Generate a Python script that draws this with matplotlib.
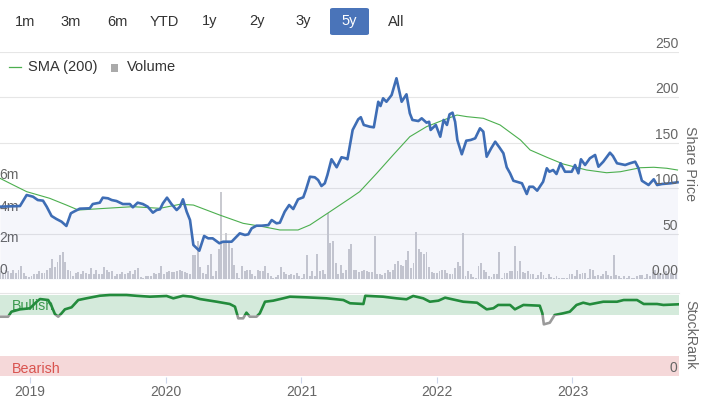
import numpy as np
import pandas as pd
import matplotlib
matplotlib.use("Agg")
import matplotlib.pyplot as plt
import matplotlib.dates as mdates
import matplotlib.transforms as mtransforms
from matplotlib.patches import FancyBboxPatch, Rectangle
from matplotlib.lines import Line2D

plt.rcParams["font.family"] = ["Liberation Sans", "DejaVu Sans"]

# ---- data ----
price_dates = [
    "2018-10-12", "2018-12-05", "2018-12-23", "2019-01-09", "2019-01-22", "2019-02-05", "2019-02-15",
    "2019-02-28", "2019-03-13", "2019-03-27", "2019-04-09", "2019-04-21", "2019-04-29", "2019-05-15",
    "2019-06-11", "2019-06-19", "2019-07-08", "2019-07-16", "2019-07-30", "2019-08-09", "2019-08-22",
    "2019-09-08", "2019-09-27", "2019-10-05", "2019-10-18", "2019-11-01", "2019-11-14", "2019-11-28",
    "2019-12-08", "2019-12-17", "2019-12-25", "2020-01-05", "2020-01-17", "2020-01-31", "2020-02-09",
    "2020-02-17", "2020-02-27", "2020-03-07", "2020-03-16", "2020-04-01", "2020-04-14", "2020-04-25",
    "2020-05-07", "2020-05-25", "2020-06-04", "2020-06-27", "2020-07-06", "2020-07-19", "2020-08-02",
    "2020-08-11", "2020-08-20", "2020-09-02", "2020-09-16", "2020-10-04", "2020-10-13", "2020-10-26",
    "2020-11-04", "2020-11-17", "2020-11-29", "2020-12-10", "2020-12-23",
    "2021-01-06", "2021-01-13", "2021-01-24", "2021-02-06", "2021-02-15", "2021-02-24", "2021-03-05",
    "2021-03-12", "2021-03-23", "2021-04-06", "2021-04-19", "2021-04-30", "2021-05-05", "2021-05-12",
    "2021-05-19", "2021-06-03", "2021-06-10", "2021-06-18", "2021-07-04", "2021-07-15", "2021-07-27",
    "2021-08-02", "2021-08-09", "2021-08-18", "2021-09-01", "2021-09-14", "2021-09-28", "2021-10-11",
    "2021-10-20", "2021-10-27", "2021-11-12", "2021-11-21", "2021-12-04", "2021-12-11", "2021-12-15",
    "2021-12-29",
    "2022-01-10", "2022-01-19", "2022-01-28", "2022-02-04", "2022-02-12", "2022-02-19", "2022-02-25",
    "2022-03-09", "2022-03-21", "2022-04-02", "2022-04-14", "2022-04-27", "2022-05-06", "2022-05-15",
    "2022-05-27", "2022-06-07", "2022-06-18", "2022-06-29", "2022-07-08", "2022-07-17", "2022-07-26",
    "2022-08-18", "2022-08-31", "2022-09-07", "2022-09-17", "2022-09-28", "2022-10-14", "2022-10-24",
    "2022-10-31", "2022-11-10", "2022-11-19", "2022-11-30", "2022-12-12", "2022-12-30",
    "2023-01-08", "2023-01-17", "2023-01-24", "2023-02-04", "2023-02-17", "2023-03-03", "2023-03-12",
    "2023-03-25", "2023-04-12", "2023-04-20", "2023-05-01", "2023-05-23", "2023-06-05", "2023-06-19",
    "2023-06-28", "2023-07-07", "2023-07-25", "2023-08-08", "2023-08-17", "2023-08-30", "2023-09-22",
    "2023-10-11",
]
price_values = [
    79.7, 80.4, 92.5, 90.7, 87, 86.3, 79.7, 69.5, 66.2, 63.2, 58.5, 72.4, 74.2, 77.5, 77.9, 82.6, 84.1,
    89.6, 88.9, 87, 85.9, 82.6, 82.6, 79, 84.1, 82.6, 79.7, 73.1, 76, 76.8, 83.4, 89.6, 82.6, 76, 79.7,
    87.8, 74.2, 65, 37.6, 31.3, 47.5, 44.9, 44.9, 39.5, 41.2, 41.2, 44.9, 50.4, 48.6, 49.3, 55.9, 58.8,
    58.8, 59.5, 65, 61.4, 62.1, 74.2, 81.5, 77.1, 87.8,
    90, 98, 112.6, 112, 109, 102.4, 105.4, 114.5, 131.8, 123, 134, 132.9, 131.8, 148, 164, 175.7, 178,
    169.5, 167.6, 166.9, 195, 190.3, 198.8, 195, 202.4, 220.8, 195, 203.2, 182.3, 175, 173.8, 176.8,
    172, 173, 164, 169.5,
    156.6, 175, 169.5, 181.2, 183, 173, 153, 137.3, 152.2, 153, 154.8, 165.8, 162.1, 134.6, 143.8,
    151.1, 145, 138.4, 123, 116.4, 108.2, 105.4, 93.6, 101.6, 101.6, 97.3, 107.1, 121.9, 118.1, 120,
    115.6, 127.4, 118.1, 118.1,
    125.5, 116.4, 131.8, 125.5, 132.9, 136.5, 123.6, 129.1, 139, 135.4, 127.4, 125.5, 127.4, 129.1,
    121.9, 108.2, 103.5, 109.8, 103.5, 104.6, 105.4, 106.5,
]

sma_dates = [
    "2018-10-12", "2018-11-17", "2018-12-23", "2019-02-23", "2019-04-09", "2019-05-11", "2019-07-08",
    "2019-10-05", "2019-12-17", "2020-02-09", "2020-03-16", "2020-05-26", "2020-07-28", "2020-09-20",
    "2020-11-04", "2020-12-23", "2021-01-24", "2021-03-19", "2021-05-12", "2021-06-07", "2021-07-23",
    "2021-09-05", "2021-10-20", "2021-12-04", "2022-01-19", "2022-02-24", "2022-03-23", "2022-05-06",
    "2022-06-20", "2022-08-14", "2022-09-09", "2022-10-24", "2022-12-07", "2023-02-08", "2023-04-03",
    "2023-05-10", "2023-07-03", "2023-08-08", "2023-09-12", "2023-10-11",
]
sma_values = [
    110.9, 103.5, 96.2, 88.9, 81.5, 76, 77.5, 79.7, 77.9, 82.3, 81.5, 70.5, 61.4, 57.7, 54.1, 54.1,
    59.6, 74.2, 88.9, 96.2, 116.4, 136.5, 156.6, 167.6, 175, 180.4, 178.6, 176.8, 169.5, 153, 142, 134,
    126.6, 120, 117, 118.1, 122.5, 123, 121.9, 120,
]

# weekly volume, millions of shares
volume_start = "2018-10-13"
volume = [
    0.5, 0.3, 0.6, 0.5, 0.4, 0.6, 0.4, 0.6, 0.85, 0.4,
    0.2, 0.15, 0.2, 0.3, 0.3, 0.5, 0.4, 0.4, 0.6, 0.7,
    1.3, 0.8, 1.1, 1.5, 1.7, 1.1, 0.6, 0.5, 0.2, 0.4,
    0.45, 0.35, 0.5, 0.4, 0.3, 0.7, 0.3, 0.6, 0.35, 0.35,
    0.75, 0.55, 0.45, 0.5, 0.2, 0.3, 0.35, 0.45, 0.3, 0.4,
    0.5, 0.35, 0.6, 0.7, 0.15, 0.1, 0.2, 0.2, 0.2, 0.4,
    0.3, 0.4, 0.85, 0.3, 0.45, 0.5, 0.45, 0.45, 0.5, 0.55,
    0.5, 0.45, 0.4, 0.3, 1.5, 1.5, 2.4, 0.8, 0.4, 0.3,
    0.9, 1.6, 0.2, 0.5, 1.9, 5.5, 2.3, 2.9, 2.4, 2.0,
    0.9, 0.4, 0.1, 0.85, 0.5, 0.6, 0.6, 0.3, 0.2, 0.6,
    0.5, 0.5, 0.85, 0.4, 0.2, 0.1, 0.15, 0.25, 0.8, 0.45,
    0.35, 0.25, 0.3, 0.25, 0.4, 0.2, 0.1, 0.3, 1.5, 0.2,
    0.5, 0.2, 1.6, 0.5, 0.55, 0.3, 4.2, 2.3, 2.4, 1.0,
    0.3, 0.9, 0.4, 0.55, 1.9, 2.2, 0.55, 0.6, 0.45, 0.5,
    0.55, 0.5, 0.45, 0.45, 2.7, 0.3, 0.3, 0.25, 0.4, 0.55,
    0.45, 0.6, 0.95, 1.15, 0.9, 0.85, 1.2, 1.8, 0.7, 1.05,
    3.0, 1.9, 1.7, 1.6, 1.7, 0.8, 0.45, 0.4, 0.4, 0.5,
    0.6, 0.6, 0.4, 0.3, 0.3, 0.7, 1.1, 0.85, 2.9, 0.2,
    0.5, 0.3, 0.15, 0.1, 0.85, 1.05, 0.6, 0.45, 0.2, 0.15,
    0.3, 0.3, 1.7, 0.1, 0.4, 0.42, 0.53, 0.5, 2.1, 0.5,
    1.15, 0.45, 0.42, 0.53, 0.3, 0.3, 0.1, 0.25, 0.45, 0.25,
    0.1, 0.3, 0.15, 0.1, 0.2, 0.1, 0.1, 0.05, 0.05, 0.3,
    0.3, 0.2, 0.6, 0.3, 0.4, 0.4, 0.1, 0.65, 0.6, 0.2,
    0.25, 0.2, 0.3, 0.53, 0.25, 0.2, 1.5, 0.25, 0.2, 0.1,
    0.2, 0.1, 0.2, 0.05, 0.05, 0.2, 0.25, 0.25, 0.1, 0.3,
    0.2, 0.45, 0.55, 0.3, 0.4, 0.3, 0.5, 0.3, 0.4, 0.3, 0.3,
]

rank_dates = [
    "2018-10-12", "2018-11-03", "2018-11-12", "2018-12-05", "2019-01-01", "2019-01-19", "2019-01-28",
    "2019-02-19", "2019-02-28", "2019-03-09", "2019-03-18", "2019-03-27", "2019-04-05", "2019-04-23",
    "2019-05-11", "2019-06-02", "2019-07-08", "2019-08-04", "2019-09-18", "2019-10-15", "2019-11-20",
    "2020-01-04", "2020-01-22", "2020-02-17", "2020-03-11", "2020-04-03", "2020-05-18", "2020-06-22",
    "2020-07-06", "2020-07-15", "2020-07-28", "2020-08-06", "2020-08-15", "2020-09-02", "2020-09-11",
    "2020-09-25", "2020-10-17", "2020-11-13", "2020-12-01", "2021-01-15", "2021-03-10", "2021-04-24",
    "2021-05-12", "2021-06-17", "2021-06-22", "2021-08-09", "2021-09-14", "2021-10-11", "2021-10-29",
    "2021-11-25", "2021-12-13", "2022-01-05", "2022-01-23", "2022-03-13", "2022-04-19", "2022-05-15",
    "2022-06-02", "2022-06-15", "2022-07-17", "2022-07-30", "2022-08-22", "2022-10-05", "2022-10-12",
    "2022-10-16", "2022-11-01", "2022-11-14", "2022-12-07", "2022-12-25", "2023-01-12", "2023-01-30",
    "2023-02-17", "2023-03-25", "2023-05-01", "2023-05-19", "2023-06-24", "2023-07-12", "2023-08-17",
    "2023-09-03", "2023-10-13",
]
rank_values = [
    73.2, 73.2, 79.4, 82.3, 83.6, 91.7, 95, 93.8, 86.4, 76.5, 73.2, 77.4, 82.3, 84.8, 93.8, 95.9, 99.1,
    100, 100, 99, 97.9, 98.8, 95.9, 99, 97.9, 95, 91.7, 88.9, 85.6, 71.2, 71.2, 78.2, 73.2, 73.2, 77.4,
    91.7, 93, 95.9, 97.9, 97.1, 95.9, 93.8, 89.8, 88.9, 99, 97.9, 95.9, 94.7, 98.8, 95.9, 91.7, 93,
    96.7, 91.7, 90.5, 82.3, 83.6, 87.7, 87.7, 82.3, 87.7, 86.8, 77.4, 63.8, 65.8, 75.3, 77.4, 79.4,
    87.7, 90.5, 88.5, 91.7, 91.7, 93.8, 93.8, 88.9, 88.9, 87.7, 88.5,
]

price_ticks = [0, 50, 100, 150, 200, 250]
price_labels = ["0.00", "50", "100", "150", "200", "250"]
volume_ticks = [0, 2, 4, 6]
volume_labels = ["0", "2m", "4m", "6m"]
year_ticks = ["2019", "2020", "2021", "2022", "2023"]
buttons = ["1m", "3m", "6m", "YTD", "1y", "2y", "3y", "5y", "All"]
selected = "5y"

# ---- layout helpers (pixel coords, top-left origin) ----
W, H = 706, 399


def rect(x0, y0, x1, y1):
    return [x0 / W, 1 - y1 / H, (x1 - x0) / W, (y1 - y0) / H]


LABEL = "#666666"
GRID = "#e6e6e6"
BLUE = "#3e6db5"
SMA_GREEN = "#4caf4f"
RANK_GREEN = "#238b3c"

fig = plt.figure(figsize=(W / 100, H / 100), dpi=100)

x_left = pd.Timestamp("2018-10-12 05:00")
x_right = pd.Timestamp("2023-10-15")

# volume panel (behind), price panel on top of it
axv = fig.add_axes(rect(0, 51.7, 679, 279.2))
ax = fig.add_axes(rect(0, 51.7, 679, 279.2), sharex=axv)
ax.set_zorder(2)
axv.set_zorder(1)
ax.patch.set_visible(False)

for a in (ax, axv):
    for s in a.spines.values():
        s.set_visible(False)
    a.tick_params(left=False, right=False, bottom=False, labelleft=False,
                  labelright=False, labelbottom=False)
    a.set_yticks([])

ax.set_ylim(0, 250)
vol_top = (279.2 - 51.7) / 15.85
axv.set_ylim(0, vol_top)
axv.set_xlim(x_left, x_right)

# gridlines behind the volume bars
for p in price_ticks:
    axv.plot([0, 1], [p / 250, p / 250], transform=axv.transAxes,
             color=GRID if p else "#d8dce6", lw=0.8, zorder=0)

vol_dates = pd.date_range(volume_start, periods=len(volume), freq="7D")
axv.bar(vol_dates, volume, width=5.2, color="#c9cad0", zorder=2)

pd_dates = pd.to_datetime(price_dates)
ax.fill_between(pd_dates, price_values, 0, color=(0.25, 0.35, 0.75, 0.05), lw=0, zorder=1)
ax.plot(pd.to_datetime(sma_dates), sma_values, color=SMA_GREEN, lw=0.8, zorder=3)
ax.plot(pd_dates, price_values, color=BLUE, lw=1.9, solid_joinstyle="round", zorder=4)

ytrans = ax.get_yaxis_transform()
for p, lab in zip(price_ticks, price_labels):
    ax.annotate(lab, xy=(1, p), xycoords=ytrans, xytext=(-0.6, 5.8),
                textcoords="offset points", ha="right", va="center",
                color=LABEL, fontsize=10, zorder=5)

vtrans = axv.get_yaxis_transform()
for v, lab in zip(volume_ticks, volume_labels):
    axv.annotate(lab, xy=(0, v), xycoords=vtrans, xytext=(-0.5, 6.6),
                 textcoords="offset points", ha="left", va="center",
                 color=LABEL, fontsize=10, zorder=5)

fig.text(690 / W, 1 - 164 / H, "Share Price", rotation=270, ha="center", va="center",
         color=LABEL, fontsize=10.3)

# ---- StockRank panel ----
axr = fig.add_axes(rect(0, 293, 679, 377), sharex=axv)
axr.set_ylim(-1 / 0.81, 100 + 2 / 0.81)
for name, s in axr.spines.items():
    s.set_visible(name == "top")
axr.spines["top"].set_color(GRID)
axr.spines["top"].set_linewidth(0.8)
axr.set_yticks([])
axr.axhspan(75, 100, color="#d4eadb", lw=0, zorder=0)
axr.axhspan(0, 25, color="#f5d8d9", lw=0, zorder=0)

axr.text(12 / 679, 86.5, "Bullish", transform=axr.get_yaxis_transform(), color="#3c9a4f",
         fontsize=10.3, va="center", ha="left", zorder=1)
axr.text(12 / 679, 8.5, "Bearish", transform=axr.get_yaxis_transform(), color="#d9534f",
         fontsize=10.3, va="center", ha="left", zorder=1)
axr.annotate("0", xy=(1, 0), xycoords=axr.get_yaxis_transform(), xytext=(-1.6, 5.8),
             textcoords="offset points", ha="right", va="center", color=LABEL, fontsize=10)

blend = mtransforms.blended_transform_factory(axr.transAxes, axr.transData)
r_dates = pd.to_datetime(rank_dates)
gray_line, = axr.plot(r_dates, rank_values, color="#9a9a9a", lw=1.9, zorder=3,
                      solid_joinstyle="round")
gray_line.set_clip_path(Rectangle((0, -20), 1, 95, transform=blend))
green_line, = axr.plot(r_dates, rank_values, color=RANK_GREEN, lw=1.9, zorder=3,
                       solid_joinstyle="round")
green_line.set_clip_path(Rectangle((0, 75), 1, 40, transform=blend))

axr.set_xticks(pd.to_datetime([y + "-01-01" for y in year_ticks]))
axr.xaxis.set_major_formatter(mdates.DateFormatter("%Y"))
axr.tick_params(axis="x", length=4.3, width=0.8, color="#ccd6eb", labelcolor=LABEL,
                labelsize=10, pad=1.8)
axr.tick_params(axis="y", left=False, labelleft=False)

fig.text(690 / W, 1 - 335 / H, "StockRank", rotation=270, ha="center", va="center",
         color=LABEL, fontsize=10.3)

# ---- range selector buttons ----
button_x = [25, 71, 117, 164, 210, 257, 303, 349, 396]
for bx, lab in zip(button_x, buttons):
    if lab == selected:
        fig.patches.append(FancyBboxPatch(
            (330 / W, 1 - 35 / H), 39 / W, 27 / H,
            boxstyle="round,pad=0,rounding_size=0.004", transform=fig.transFigure,
            facecolor="#4a74b9", edgecolor="none"))
        color = "white"
    else:
        color = "#333333"
    fig.text(bx / W, 1 - 21.5 / H, lab, ha="center", va="center", color=color, fontsize=10.5)

# ---- legend ----
fig.add_artist(Line2D([9 / W, 21 / W], [1 - 67 / H, 1 - 67 / H], color=SMA_GREEN, lw=0.9))
fig.text(28.3 / W, 1 - 67 / H, "SMA (200)", ha="left", va="center", color="#333333", fontsize=10.5)
fig.patches.append(Rectangle((111 / W, 1 - 71.5 / H), 7 / W, 7 / H, transform=fig.transFigure,
                             facecolor="#aaaaaa", edgecolor="none"))
fig.text(127 / W, 1 - 67 / H, "Volume", ha="left", va="center", color="#333333", fontsize=10.5)

fig.savefig("out.png", dpi=100)
